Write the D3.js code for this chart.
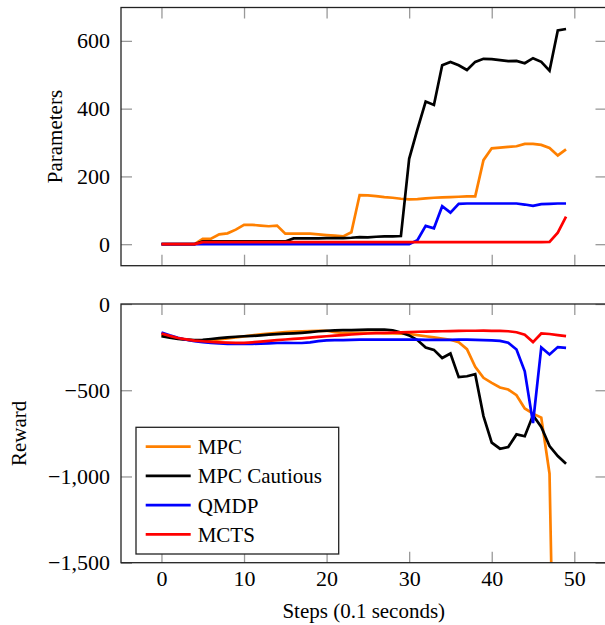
<!DOCTYPE html>
<html>
<head>
<meta charset="utf-8">
<title>Parameters and reward</title>
<style>
  body { margin: 0; background: #fff; }
  text { font-family: "Liberation Serif", "DejaVu Serif", serif; }
</style>
</head>
<body>
<svg width="605" height="625"></svg>
<script src="https://d3js.org/d3.v7.min.js"></script>
<script>
// steps 0..49 (0.1 s each)
const steps = [0,1,2,3,4,5,6,7,8,9,10,11,12,13,14,15,16,17,18,19,20,21,22,23,24,
  25,26,27,28,29,30,31,32,33,34,35,36,37,38,39,40,41,42,43,44,45,46,47,48,49];

const seriesNames = ['MPC', 'MPC Cautious', 'QMDP', 'MCTS'];
const seriesColors = ['#ff8000', '#000000', '#0000ff', '#ff0000'];

// top panel: parameters
const paramMPC = [0,0,0,0,0, 16,16,29,32,43, 57,57,55,53,55, 31,31,31,31,29,
  27,25,23,35,145, 144,142,139,137,134, 132,133,135,137,138, 139,140,141,141,248,
  283,285,287,289,296, 296,293,284,262,280];
const paramCautious = [0,0,0,0,0, 8,8,8,8,8, 8,8,8,8,8, 8,17,17,17,17,
  18,18,18,19,21, 20,22,23,23,24, 252,339,421,411,528, 538,528,514,538,547,
  546,543,540,541,534, 549,538,512,631,635];
const paramQMDP = [0,0,0,0,0, 0,0,0,0,0, 0,0,0,0,0, 0,0,0,0,0,
  0,0,0,0,0, 0,0,0,0,0, 0,12,54,47,112, 93,119,120,120,120,
  120,120,120,120,117, 113,118,119,120,120];
const paramMCTS = [0,0,0,0,0, 6,6,6,6,6, 6,6,6,6,6, 6,6,6,6,6,
  6,6,6,6,6, 6,6,6,6,6, 6,6,6,6,6, 6,6,6,6,6,
  6,6,6,6,6, 6,6,7,34,81];

// bottom panel: reward
const rewardMPC = [-180,-190,-200,-207,-212, -213,-210,-205,-200,-194, -188,-182,-176,-171,-167, -163,-160,-158,-157,-156,
  -155,-163,-168,-168,-168, -167,-168,-170,-170,-172, -174,-180,-187,-194,-200, -207,-222,-262,-364,-428,
  -457,-484,-496,-529,-606, -636,-659,-984,-3500,-4000];
const rewardCautious = [-186,-195,-202,-207,-209, -208,-203,-198,-193,-190, -187,-185,-182,-178,-175, -172,-170,-167,-163,-158,
  -155,-153,-152,-152,-150, -149,-149,-148,-152,-165, -182,-209,-252,-266,-313, -287,-424,-419,-407,-650,
  -804,-839,-829,-756,-767, -645,-713,-824,-882,-926];
const rewardQMDP = [-165,-182,-196,-207,-215, -221,-226,-229,-231,-232, -232,-231,-230,-228,-226, -225,-226,-226,-222,-215,
  -211,-209,-209,-208,-207, -207,-207,-206,-206,-206, -206,-207,-208,-208,-208, -208,-207,-207,-208,-209,
  -211,-214,-225,-264,-390, -690,-252,-293,-250,-254];
const rewardMCTS = [-171,-185,-197,-205,-212, -216,-220,-222,-224,-225, -225,-222,-218,-214,-210, -206,-202,-199,-195,-191,
  -187,-183,-180,-177,-174, -171,-169,-167,-166,-165, -163,-161,-160,-159,-158, -157,-156,-155,-155,-154,
  -156,-156,-158,-164,-178, -221,-171,-174,-180,-186];

const paramTicks = [0, 200, 400, 600];
const rewardTicks = [0, -500, -1000, -1500];
const stepTicks = [0, 10, 20, 30, 40, 50];

const svg = d3.select('svg');
const tickLen = 11;
const fontSize = 21;
const tickFont = 22;
const serif = '"Liberation Serif", serif';

const x = d3.scaleLinear().domain([-4.9, 53.9]).range([121, 606.5]);
const yTop = d3.scaleLinear().domain([-63.5, 698.5]).range([265.7, 7.5]);
const yBot = d3.scaleLinear().domain([-1500, 0]).range([562.7, 304]);

const fmt = d3.format(',');
const minusFmt = v => (v < 0 ? '\u2212' : '') + fmt(Math.abs(v));

function panel(y, yTicks, series, id, showX) {
  const x0 = x.range()[0], x1 = x.range()[1];
  const y0 = y.range()[1], y1 = y.range()[0];
  const g = svg.append('g');

  g.append('clipPath').attr('id', id)
    .append('rect').attr('x', x0).attr('y', y0).attr('width', x1 - x0).attr('height', y1 - y0);

  // inward ticks on all four sides
  const bottom = g.append('g').attr('transform', `translate(0,${y1})`)
    .call(d3.axisBottom(x).tickValues(stepTicks).tickSizeInner(-tickLen).tickSizeOuter(0).tickPadding(8)
      .tickFormat(showX ? d3.format('d') : ''));
  const top = g.append('g').attr('transform', `translate(0,${y0})`)
    .call(d3.axisTop(x).tickValues(stepTicks).tickSizeInner(-tickLen).tickSizeOuter(0).tickFormat(''));
  const left = g.append('g').attr('transform', `translate(${x0},0)`)
    .call(d3.axisLeft(y).tickValues(yTicks).tickSizeInner(-tickLen).tickSizeOuter(0).tickPadding(11)
      .tickFormat(minusFmt));
  const right = g.append('g').attr('transform', `translate(${x1},0)`)
    .call(d3.axisRight(y).tickValues(yTicks).tickSizeInner(-tickLen).tickSizeOuter(0).tickFormat(''));

  [bottom, top, left, right].forEach(a => {
    a.attr('font-family', serif).attr('font-size', tickFont);
    a.select('.domain').remove();
    a.selectAll('line').attr('stroke', '#999').attr('stroke-width', 1.3);
    a.selectAll('text').attr('fill', '#000')
      .style('font-family', serif).style('font-size', tickFont + 'px');
  });

  const line = d3.line().x((d, i) => x(steps[i])).y(d => y(d));
  g.append('g').attr('clip-path', `url(#${id})`)
    .selectAll('path').data(series).join('path')
    .attr('d', d => line(d))
    .attr('fill', 'none')
    .attr('stroke', (d, i) => seriesColors[i])
    .attr('stroke-width', 2.7)
    .attr('stroke-linejoin', 'miter');

  g.append('rect')
    .attr('x', x0).attr('y', y0).attr('width', x1 - x0).attr('height', y1 - y0)
    .attr('fill', 'none').attr('stroke', '#222').attr('stroke-width', 1.3);
  return g;
}

panel(yTop, paramTicks, [paramMPC, paramCautious, paramQMDP, paramMCTS], 'clipTop', false);
panel(yBot, rewardTicks, [rewardMPC, rewardCautious, rewardQMDP, rewardMCTS], 'clipBot', true);

// axis titles
svg.append('text')
  .attr('transform', `translate(62,${(yTop.range()[0] + yTop.range()[1]) / 2}) rotate(-90)`)
  .attr('text-anchor', 'middle').attr('font-size', fontSize)
  .text('Parameters');
svg.append('text')
  .attr('transform', `translate(26,${(yBot.range()[0] + yBot.range()[1]) / 2}) rotate(-90)`)
  .attr('text-anchor', 'middle').attr('font-size', fontSize)
  .text('Reward');
svg.append('text')
  .attr('x', (x(0) + x(49)) / 2).attr('y', 618)
  .attr('text-anchor', 'middle').attr('font-size', fontSize)
  .text('Steps (0.1 seconds)');

// legend
const legend = svg.append('g');
legend.append('rect')
  .attr('x', 136).attr('y', 427.3).attr('width', 202.7).attr('height', 126.7)
  .attr('fill', '#fff').attr('stroke', '#222').attr('stroke-width', 1.3);
seriesNames.forEach((name, i) => {
  const cy = 446.7 + i * 29.2;
  legend.append('line')
    .attr('x1', 145.7).attr('x2', 190.7).attr('y1', cy).attr('y2', cy)
    .attr('stroke', seriesColors[i]).attr('stroke-width', 2.7);
  legend.append('text')
    .attr('x', 197.7).attr('y', cy + 7.5)
    .attr('font-size', fontSize)
    .text(name);
});
</script>
</body>
</html>
